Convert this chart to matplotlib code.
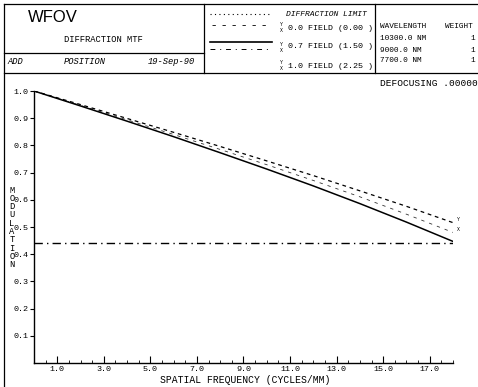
import numpy as np
import matplotlib.pyplot as plt
from matplotlib.lines import Line2D
from matplotlib.ticker import MultipleLocator

# MTF curves (spatial frequency in cycles/mm)
freq = [0, 2, 4, 6, 8, 10, 12, 14, 16, 18]
diffraction_limit = [1.0, 0.950, 0.899, 0.848, 0.796, 0.743, 0.689, 0.633, 0.576, 0.516]
field_00 = [1.0, 0.947, 0.894, 0.840, 0.785, 0.729, 0.671, 0.611, 0.547, 0.480]
field_07 = [1.0, 0.945, 0.889, 0.832, 0.773, 0.713, 0.651, 0.586, 0.518, 0.447]
threshold = 0.443

x_ticks = [1, 3, 5, 7, 9, 11, 13, 15, 17]
y_ticks = [0.1, 0.2, 0.3, 0.4, 0.5, 0.6, 0.7, 0.8, 0.9, 1.0]

wavelengths = ["10300.0 NM", "9000.0 NM", "7700.0 NM"]
weights = ["1", "1", "1"]
fields = ["0.0 FIELD (0.00 )", "0.7 FIELD (1.50 )", "1.0 FIELD (2.25 )"]

W, H = 478, 387
mono = "Liberation Mono"

fig = plt.figure(figsize=(W / 100, H / 100), dpi=100)
fig.patch.set_facecolor("white")


def fx(x):
    return x / W


def fy(y):
    return 1 - y / H


def hline(y, x0, x1, lw=0.9):
    fig.add_artist(Line2D([fx(x0), fx(x1)], [fy(y), fy(y)], color="black", lw=lw))


def vline(x, y0, y1, lw=0.9):
    fig.add_artist(Line2D([fx(x), fx(x)], [fy(y0), fy(y1)], color="black", lw=lw))


def txt(x, y, s, size=6.5, **kw):
    kw.setdefault("family", mono)
    fig.text(fx(x), fy(y), s, fontsize=size, va="center", ha=kw.pop("ha", "left"), **kw)


# header box
hline(4, 4, 478)
hline(53, 4, 204)
hline(73, 4, 478)
vline(4, 4, 387)
vline(204, 4, 73)
vline(375, 4, 73)

txt(28, 18, "WFOV", size=12, family="Liberation Sans")
txt(64, 40, "DIFFRACTION MTF", size=6.3)
txt(7, 62, "ADD", size=6.3, style="italic")
txt(64, 62, "POSITION", size=6.3, style="italic")
txt(148, 62, "19-Sep-90", size=6.3, style="italic")

# legend cell
fig.add_artist(Line2D([fx(210), fx(272)], [fy(14), fy(14)], color="black", lw=0.8, ls=(0, (1, 3))))
fig.add_artist(Line2D([fx(212), fx(272)], [fy(25), fy(25)], color="black", lw=0.6, ls=(0, (4, 8))))
fig.add_artist(Line2D([fx(210), fx(272)], [fy(42), fy(42)], color="black", lw=1.2))
fig.add_artist(Line2D([fx(210), fx(272)], [fy(49), fy(49)], color="black", lw=0.7, ls=(0, (5, 5, 1, 5))))
txt(286, 14, "DIFFRACTION LIMIT", size=5.8, style="italic")
for i, label in enumerate(fields):
    y = 28 + i * 19
    txt(280, y - 3, "Y", size=3.5)
    txt(280, y + 3, "X", size=3.5)
    txt(288, y, label, size=6.0)

# wavelength cell
txt(380, 27, "WAVELENGTH", size=5.6)
txt(445, 27, "WEIGHT", size=5.6)
for i, (wl, wt) in enumerate(zip(wavelengths, weights)):
    y = 39 + i * 11
    txt(380, y, wl, size=5.6)
    txt(470, y, wt, size=5.6)

txt(478, 84, "DEFOCUSING .00000", size=6.8, ha="right")

# plot area
ax = fig.add_axes([fx(34), fy(363), (453 - 34) / W, (363 - 91) / H])
ax.plot(freq, diffraction_limit, color="black", lw=0.9, ls=(0, (3, 3)))
ax.plot(freq, field_00, color="black", lw=0.6, ls=(0, (4, 6)), alpha=0.8)
ax.plot(freq, field_07, color="black", lw=1.1)
ax.plot([freq[0], freq[-1]], [threshold, threshold], color="black", lw=1.0, ls=(0, (6, 3, 1, 3)))
ax.text(18.15, diffraction_limit[-1] + 0.01, "Y", fontsize=3.5, family=mono, va="center")
ax.text(18.15, field_00[-1] + 0.01, "X", fontsize=3.5, family=mono, va="center")

ax.set_xlim(0, 18)
ax.set_ylim(0, 1.0)
ax.set_xticks(x_ticks)
ax.set_xticklabels([f"{v:.1f}" for v in x_ticks])
ax.xaxis.set_minor_locator(MultipleLocator(0.5))
ax.set_yticks(y_ticks)
ax.set_yticklabels([f"{v:.1f}" for v in y_ticks])
ax.tick_params(axis="x", direction="in", length=5, width=0.8, labelsize=6, pad=2)
ax.tick_params(axis="x", which="minor", direction="in", length=2, width=0.6)
ax.tick_params(axis="y", direction="out", length=3, width=0.8, labelsize=6, pad=1)
for lab in ax.get_xticklabels() + ax.get_yticklabels():
    lab.set_family(mono)
for side in ["top", "right"]:
    ax.spines[side].set_visible(False)
for side in ["left", "bottom"]:
    ax.spines[side].set_linewidth(1.0)
ax.set_facecolor("white")

txt(245, 380, "SPATIAL FREQUENCY (CYCLES/MM)", size=7.0, ha="center")

# vertical stacked axis label
for i, ch in enumerate("MODULATION"):
    txt(12, 190 + i * 8.3, ch, size=6.3, ha="center")

fig.savefig("out.png", dpi=100)
